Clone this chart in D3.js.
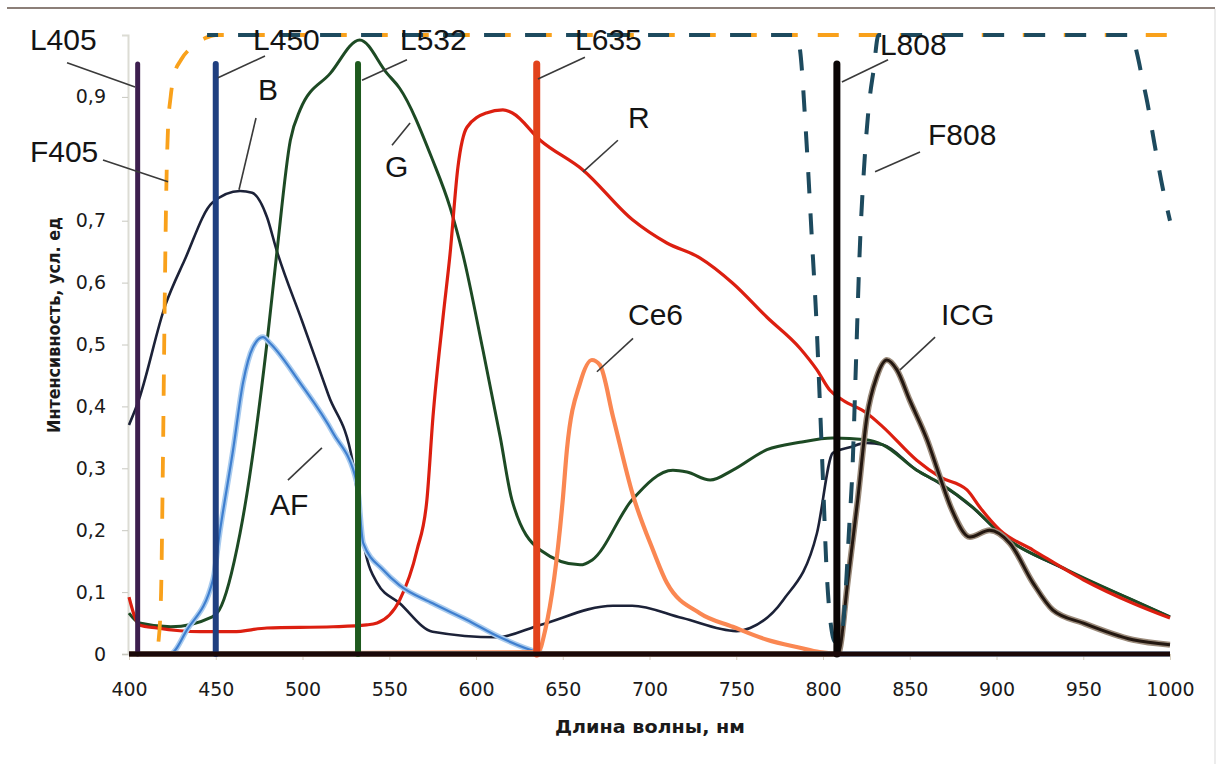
<!DOCTYPE html>
<html>
<head>
<meta charset="utf-8">
<script src="https://cdn.jsdelivr.net/npm/d3@7"></script>
<style>
  body { margin: 0; background: #fff; }
  svg { display: block; }
</style>
</head>
<body>
<div id="container"></div>
<script>
// chart size and margins (px)
const width = 1221;
const height = 764;
const marginTop = 35;
const marginRight = 51;
const marginBottom = 110;
const marginLeft = 129;

// axis ticks (0,8 is hidden behind the F405 label in the original)
const xTicks = [400, 450, 500, 550, 600, 650, 700, 750, 800, 850, 900, 950, 1000];
const xTickLabels = ["400", "450", "500", "550", "600", "650", "700", "750", "800", "850", "900", "950", "1000"];
const yTicks = [0, 0.1, 0.2, 0.3, 0.4, 0.5, 0.6, 0.7, 0.9];
const yTickLabels = ["0", "0,1", "0,2", "0,3", "0,4", "0,5", "0,6", "0,7", "0,9"];

// spectra [wavelength nm, intensity]
const seriesB = [[400,0.37],[405,0.405],[421,0.564],[432,0.636],[448,0.729],[464,0.748],[471,0.745],[479.5,0.706],[485,0.653],
  [500,0.536],[515,0.418],[529,0.309],[536,0.168],[543,0.115],[556,0.082],[575,0.036],[612,0.027],[637,0.047],[679,0.078],[690,0.078],[719,0.058],
  [750,0.037],[758,0.042],[777,0.087],[796.5,0.195],[805.7,0.325],[815.5,0.334],[825,0.341],[834.5,0.338],[854,0.297],
  [867,0.276],[886,0.237],[902,0.195],[940,0.136],[978.6,0.087],[1000,0.06]];
const seriesG = [[400,0.066],[406,0.05],[424,0.044],[448,0.06],[452,0.071],[464,0.195],[479.5,0.502],[485,0.643],[493,0.83],
  [498.6,0.879],[516,0.938],[533,0.992],[548.7,0.938],[556,0.914],[575,0.798],[585,0.722],[592.5,0.645],[604,0.491],
  [614,0.35],[620.7,0.249],[637,0.168],[660,0.144],[667,0.152],[690,0.249],[713.5,0.297],[721.6,0.294],[735,0.281],
  [748,0.297],[767.7,0.33],[786.7,0.342],[805.7,0.349],[825,0.346],[834.5,0.338],[854,0.297],[867.4,0.276],[886.4,0.237],
  [902,0.195],[940.6,0.136],[978.6,0.087],[1000,0.06]];
const seriesR = [[400,0.092],[406,0.047],[416,0.042],[441,0.036],[460,0.036],[479.5,0.042],[517.6,0.044],[537,0.047],
  [543,0.05],[556,0.087],[566,0.168],[571.7,0.249],[575.2,0.383],[581,0.544],[585,0.645],[589.6,0.787],[594.8,0.851],
  [606,0.874],[615.5,0.879],[621,0.874],[637,0.83],[661.6,0.782],[690.4,0.701],[710,0.664],[729,0.64],[748,0.599],
  [767.7,0.544],[786.7,0.494],[796.5,0.459],[804,0.426],[811.5,0.41],[825.3,0.389],[834.5,0.367],[854,0.313],[867.4,0.286],
  [883,0.265],[890.4,0.237],[902,0.2],[921,0.168],[950,0.12],[978.6,0.082],[1000,0.058]];
const seriesAF = [[400,0],[423.6,0],[433.4,0.039],[448.4,0.12],[452.5,0.2],[460,0.33],[465.7,0.438],[471.5,0.496],[477.2,0.512],
  [481.3,0.502],[498.6,0.438],[517.6,0.357],[531.4,0.276],[535,0.179],[546.4,0.136],[556,0.111],[575,0.082],[594.8,0.055],
  [613.8,0.027],[635.7,0.003],[640,0],[1000,0]];
const seriesCe6 = [[400,0],[635.7,0.003],[640,0.04],[650,0.249],[652.4,0.33],[660,0.438],[666.8,0.475],[671.4,0.467],[679,0.383],
  [690.4,0.257],[702,0.168],[710,0.115],[729,0.066],[748,0.044],[767.7,0.023],[786.7,0.01],[798,0.003],[810,0],[1000,0]];
const seriesICG = [[400,0],[808.6,0],[814.4,0.12],[820,0.249],[825.3,0.383],[831,0.448],[836.8,0.475],[842.6,0.459],[850,0.41],
  [860,0.346],[867.4,0.286],[874.3,0.233],[884.7,0.189],[896,0.2],[907.7,0.179],[921,0.115],[932.5,0.071],[950,0.05],
  [978.6,0.023],[1000,0.015]];

// filter transmission
const seriesF405 = [[417,0.02],[418.5,0.1],[419.5,0.3],[420.5,0.55],[421.5,0.75],[422.5,0.85],[424,0.9],[426,0.935],[430,0.96],
  [436,0.98],[444,0.995],[450,1],[1000,1]];
const seriesF808 = [[445,1],[785,1],[787,0.97],[790,0.85],[794,0.65],[796,0.55],[798,0.42],[800,0.28],[802,0.14],[804,0.06],
  [807,0.02],[810,0.02],[813,0.1],[815,0.2],[817,0.3],[819,0.47],[821,0.64],[824,0.8],[827,0.9],[829,0.94],[832,1],
  [978,1],[981,0.97],[984,0.93],[987,0.89],[991,0.825],[996,0.75],[1000,0.7]];

// lasers
const laserNames = ["L405", "L450", "L532", "L635", "L808"];
const laserNm = [405, 450, 532, 635, 808];
const laserPeak = [0.953, 0.953, 0.953, 0.953, 0.953];

// callout labels: text, text position [nm, value], leader from/to
const labelText = ["L405", "F405", "L450", "B", "L532", "G", "L635", "R", "L808", "F808", "Ce6", "ICG", "AF"];
const labelPos = [[342.9,0.976],[342.9,0.795],[471.5,0.976],[474.4,0.895],[556.2,0.976],[547.6,0.771],[657.1,0.976],
  [687.6,0.85],[832.8,0.968],[860.5,0.822],[687.6,0.531],[868,0.531],[481.3,0.225]];
const leaderFrom = [[364.3,0.955],[385,0.798],[478.4,0.966],[473.2,0.866],[560.2,0.96],[562,0.858],[662.8,0.964],
  [681.8,0.83],[837.5,0.96],[855.9,0.811],[690.5,0.51],[864.6,0.512],[491.6,0.281]];
const leaderTo = [[403.5,0.916],[422.5,0.763],[451.3,0.931],[463.4,0.75],[534.3,0.927],[551.6,0.822],[635.7,0.929],
  [661.7,0.779],[810.9,0.924],[830,0.779],[669.7,0.456],[844.4,0.459],[511.2,0.333]];

const x = d3.scaleLinear().domain([400, 1000]).range([marginLeft, width - marginRight]);
const y = d3.scaleLinear().domain([0, 1]).range([height - marginBottom, marginTop]);

const svg = d3.create("svg")
    .attr("width", width)
    .attr("height", height);

svg.append("rect").attr("width", width).attr("height", height).attr("fill", "#fff");

// frame lines
svg.append("line").attr("x1", 7).attr("x2", 1215).attr("y1", 8).attr("y2", 8)
    .attr("stroke", "#8c7f78").attr("stroke-width", 2);
svg.append("line").attr("x1", 1215).attr("x2", 1215).attr("y1", 9).attr("y2", height)
    .attr("stroke", "#ececec").attr("stroke-width", 2);

// axes
const xAxis = svg.append("g")
    .attr("transform", `translate(0,${height - marginBottom})`)
    .call(d3.axisBottom(x).tickValues(xTicks).tickFormat((d, i) => xTickLabels[i]).tickSize(6).tickPadding(23));
xAxis.select(".domain").attr("stroke", "#d0d0d0");
xAxis.selectAll(".tick line").attr("stroke", "#d8d0c0");
xAxis.selectAll("text").style("font-family", "DejaVu Sans").style("font-size", "19px").attr("fill", "#1a1a1a");

const yAxis = svg.append("g")
    .attr("transform", `translate(${marginLeft - 1},0)`)
    .call(d3.axisLeft(y).tickValues(yTicks).tickFormat((d, i) => yTickLabels[i]).tickSize(6).tickPadding(16));
yAxis.select(".domain").attr("stroke", "#dcdcd4").attr("stroke-width", 2);
yAxis.selectAll(".tick line").attr("stroke", "#c8c8c0");
yAxis.selectAll("text").style("font-family", "DejaVu Sans").style("font-size", "19px").attr("fill", "#1a1a1a");

const line = d3.line().x(d => x(d[0])).y(d => y(d[1])).curve(d3.curveMonotoneX);
const straight = d3.line().x(d => x(d[0])).y(d => y(d[1]));

function draw(data, color, w, gen) {
  return svg.append("path")
    .datum(data)
    .attr("fill", "none")
    .attr("stroke", color)
    .attr("stroke-width", w)
    .attr("stroke-linejoin", "round")
    .attr("d", gen || line);
}

// emission spectra
draw(seriesB, "#1c2238", 2.6);
draw(seriesG, "#1d4a24", 3);
draw(seriesR, "#dc1f10", 3.2);
draw(seriesAF, "#a9cbee", 5.5);
draw(seriesAF, "#3f7fcf", 2.2);
draw(seriesCe6, "#fa8752", 4.2);
draw(seriesICG, "#9b8b7b", 6);
draw(seriesICG, "#231710", 3);

// filters (dashed)
draw(seriesF405, "#f9a11b", 3.8).attr("stroke-dasharray", "21,20").attr("stroke-linejoin", "miter");
draw(seriesF808, "#1d4a5e", 4).attr("stroke-dasharray", "21,20").attr("stroke-dashoffset", 10).attr("stroke-linejoin", "miter");

// lasers: spike + common zero baseline
const laserColors = ["#3d1f4f", "#1f3f80", "#1e5a1e", "#e2421b", "#0a0505"];
const laserWidths = [5, 6, 6, 7, 7];
laserNames.forEach((name, i) => {
  const pts = [[laserNm[i], 0], [laserNm[i], laserPeak[i]]];
  draw(pts, laserColors[i], laserWidths[i], straight).attr("stroke-linecap", "round");
});
draw([[400, 0], [1000, 0]], "#1a0808", 5, straight);

// callouts
labelText.forEach((t, i) => {
  svg.append("line")
    .attr("x1", x(leaderFrom[i][0])).attr("y1", y(leaderFrom[i][1]))
    .attr("x2", x(leaderTo[i][0])).attr("y2", y(leaderTo[i][1]))
    .attr("stroke", "#3a3a3a").attr("stroke-width", 1.6);
  svg.append("text")
    .attr("x", x(labelPos[i][0])).attr("y", y(labelPos[i][1]))
    .style("font-family", "Liberation Sans, Arial, sans-serif")
    .style("font-size", "30px")
    .attr("fill", "#141414")
    .text(t);
});

// axis titles
svg.append("text")
  .attr("x", 650).attr("y", 733)
  .attr("text-anchor", "middle")
  .style("font-family", "DejaVu Sans Condensed, DejaVu Sans")
  .style("font-weight", "bold")
  .style("font-size", "18px")
  .attr("textLength", 190).attr("lengthAdjust", "spacingAndGlyphs")
  .attr("fill", "#1a1a1a")
  .text("Длина волны, нм");

svg.append("text")
  .attr("transform", "translate(60,325) rotate(-90)")
  .attr("text-anchor", "middle")
  .style("font-family", "DejaVu Sans Condensed, DejaVu Sans")
  .style("font-weight", "bold")
  .style("font-size", "17px")
  .attr("textLength", 216).attr("lengthAdjust", "spacingAndGlyphs")
  .attr("fill", "#1a1a1a")
  .text("Интенсивность, усл. ед");

document.getElementById("container").append(svg.node());
</script>
</body>
</html>
